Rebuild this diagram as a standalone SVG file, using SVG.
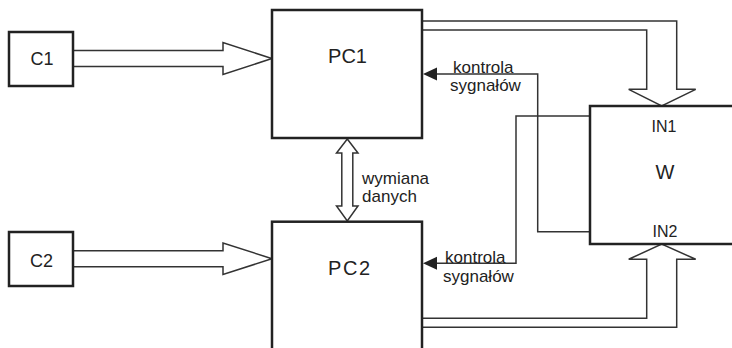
<svg xmlns="http://www.w3.org/2000/svg" width="732" height="348" viewBox="0 0 732 348">
  <style>
    .box { fill: #ffffff; stroke: #222222; stroke-width: 2.5; }
    .big { fill: #ffffff; stroke: #333333; stroke-width: 1.5; stroke-linejoin: miter; }
    .sig { fill: none; stroke: #333333; stroke-width: 1.5; }
    .head { fill: #222222; stroke: none; }
    text { font-family: "Liberation Sans", Arial, sans-serif; fill: #222222; }
    .lbl { font-size: 20px; text-anchor: middle; }
    .small { font-size: 17px; }
    .port { font-size: 16px; text-anchor: middle; }
  </style>

  <rect width="732" height="348" fill="#ffffff"/>

  <g id="connectors">
    <!-- C1 -> PC1 -->
    <polygon class="big" points="73,50.5 223,50.5 223,42.5 272,58.5 223,74.5 223,66.5 73,66.5"/>
    <!-- C2 -> PC2 -->
    <polygon class="big" points="73,250.7 223,250.7 223,243 272,258.7 223,274.5 223,266.7 73,266.7"/>
    <!-- data exchange PC1 <-> PC2 -->
    <polygon class="big" points="347.3,139 358,153 352.8,153 352.8,206 358,206 347.3,221 336.5,206 341.8,206 341.8,153 336.5,153"/>
    <!-- PC1 -> IN1 -->
    <path class="big" d="M422,21 H676.7 V89.3 H695.7 L661.7,106 L628.7,89.3 H646.7 V30 H422"/>
    <!-- PC2 -> IN2 -->
    <path class="big" d="M422,327.3 H676.7 V259.3 H695.7 L661.7,244 L628.7,259.3 H646.7 V318.3 H422"/>
    <!-- signal control W -> PC1 -->
    <path class="sig" d="M590,231.7 H537.7 V74 H434"/>
    <polygon class="head" points="423,74 437,67.5 437,80.5"/>
    <!-- signal control W -> PC2 -->
    <path class="sig" d="M590,116 H516 V263.3 H434"/>
    <polygon class="head" points="423,263.3 437,256.8 437,269.8"/>
  </g>

  <g id="C1">
    <rect class="box" x="9" y="32" width="64" height="54"/>
    <text class="lbl" x="42" y="65" style="font-size:18px">C1</text>
  </g>

  <g id="C2">
    <rect class="box" x="9" y="232" width="64" height="54"/>
    <text class="lbl" x="41.5" y="266.5" style="font-size:18px">C2</text>
  </g>

  <g id="PC1">
    <rect class="box" x="272" y="10" width="150" height="128"/>
    <text class="lbl" x="347.5" y="63">PC1</text>
  </g>

  <g id="PC2">
    <rect class="box" x="272" y="221.7" width="150" height="200"/>
    <text x="328" y="275" font-size="20" textLength="42" lengthAdjust="spacing">PC2</text>
  </g>

  <g id="W">
    <rect class="box" x="590" y="106" width="200" height="138"/>
    <text class="port" x="664" y="131.5">IN1</text>
    <text class="lbl" x="665" y="179">W</text>
    <text class="port" x="665" y="237">IN2</text>
  </g>

  <g id="labels">
    <text class="small" x="362" y="184">wymiana</text>
    <text class="small" x="362" y="202" textLength="55" lengthAdjust="spacing">danych</text>
    <text class="small" x="453" y="72.5">kontrola</text>
    <text class="small" x="450" y="91">sygnałów</text>
    <text class="small" x="445" y="262.5">kontrola</text>
    <text class="small" x="443" y="281.5">sygnałów</text>
  </g>
</svg>
